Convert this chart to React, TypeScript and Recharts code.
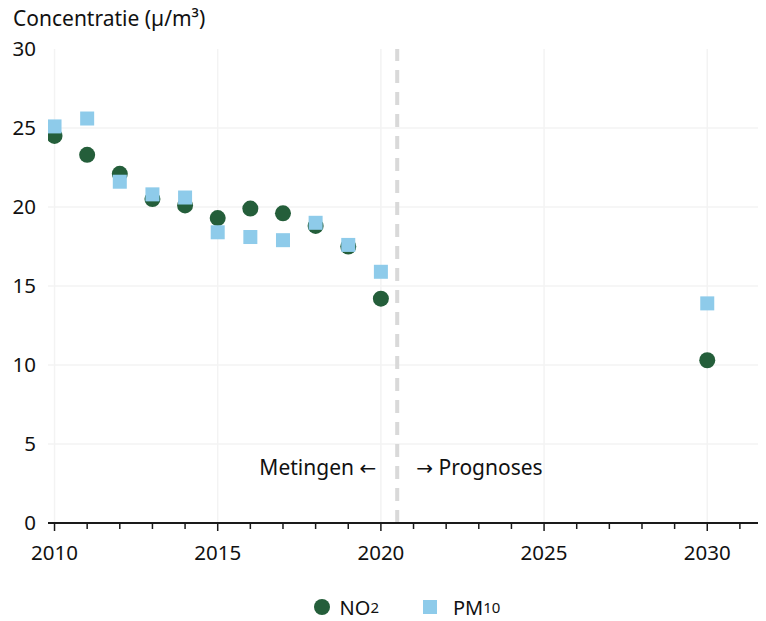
import React from "react";
import {
  ScatterChart,
  Scatter,
  XAxis,
  YAxis,
  ReferenceLine,
  Legend,
} from "recharts";

const years = [2010, 2011, 2012, 2013, 2014, 2015, 2016, 2017, 2018, 2019, 2020, 2030];
const no2Values = [24.5, 23.3, 22.1, 20.5, 20.1, 19.3, 19.9, 19.6, 18.8, 17.5, 14.2, 10.3];
const pm10Values = [25.1, 25.6, 21.6, 20.8, 20.6, 18.4, 18.1, 17.9, 19.0, 17.6, 15.9, 13.9];

const xTicks = [
  2010, 2011, 2012, 2013, 2014, 2015, 2016, 2017, 2018, 2019, 2020,
  2021, 2022, 2023, 2024, 2025, 2026, 2027, 2028, 2029, 2030, 2031,
];
const yTicks = [0, 5, 10, 15, 20, 25, 30];
const gridYears = [2010, 2015, 2020, 2025, 2030];
const gridValues = [5, 10, 15, 20, 25];
const splitYear = 2020.5;

const no2Data = years.map((year, i) => ({ year, value: no2Values[i] }));
const pm10Data = years.map((year, i) => ({ year, value: pm10Values[i] }));

const FONT = "'Noto Sans', sans-serif";
const ARROW_FONT = "'DejaVu Sans', sans-serif";
const GREEN = "#245e3a";
const BLUE = "#8ecbea";

const XTick = (props: any) => {
  const { x, y, payload } = props;
  const major = payload.value % 5 === 0;
  return (
    <g>
      <line x1={x} x2={x} y1={y} y2={y + (major ? 8 : 6)} stroke="#1a1a1a" strokeWidth={1.5} />
      {major && (
        <text x={x} y={y + 37} textAnchor="middle" fontSize={20.5} fill="#111" fontFamily={FONT}>
          {payload.value}
        </text>
      )}
    </g>
  );
};

const Circle = (props: any) => <circle cx={props.cx} cy={props.cy} r={8} fill={GREEN} />;
const Square = (props: any) => (
  <rect x={props.cx - 7} y={props.cy - 7} width={14} height={14} fill={BLUE} />
);

const SplitLabel = (props: any) => {
  const { viewBox } = props;
  const x = viewBox.x;
  const y = viewBox.y + viewBox.height - 48;
  return (
    <g fontFamily={FONT} fontSize={21} fill="#111">
      <text x={x - 21} y={y} textAnchor="end">
        Metingen <tspan fontFamily={ARROW_FONT} fontSize={20}>←</tspan>
      </text>
      <text x={x + 19} y={y} textAnchor="start">
        <tspan fontFamily={ARROW_FONT} fontSize={20}>→</tspan> Prognoses
      </text>
    </g>
  );
};

const LegendContent = () => (
  <div
    style={{
      display: "flex",
      justifyContent: "center",
      alignItems: "center",
      boxSizing: "border-box",
      height: 48,
      paddingTop: 20,
      paddingLeft: 48,
      fontFamily: FONT,
      fontSize: 20,
      color: "#111",
    }}
  >
    <span style={{ display: "flex", alignItems: "center", marginRight: 44 }}>
      <span style={{ width: 16, height: 16, borderRadius: 8, background: GREEN, marginRight: 10 }} />
      NO<span style={{ fontSize: 15 }}>2</span>
    </span>
    <span style={{ display: "flex", alignItems: "center" }}>
      <span style={{ width: 14, height: 14, background: BLUE, marginRight: 16 }} />
      PM<span style={{ fontSize: 15 }}>10</span>
    </span>
  </div>
);

export default function App() {
  return (
    <div style={{ position: "relative", width: 766, height: 621, margin: "-8px -8px 0 -8px" }}>
      <div
        style={{
          position: "absolute",
          left: 13,
          top: 5,
          fontFamily: FONT,
          fontSize: 21,
          lineHeight: "26px",
          color: "#111",
        }}
      >
        Concentratie (µ/m³)
      </div>
      <ScatterChart width={766} height={621} margin={{ top: 49, right: 0, bottom: 0, left: 0 }}>
        {gridValues.map((v) => (
          <ReferenceLine key={"h" + v} y={v} stroke="#f3f3f3" strokeWidth={1.5} />
        ))}
        {gridYears.map((yr) => (
          <ReferenceLine key={"v" + yr} x={yr} stroke="#f3f3f3" strokeWidth={1.5} />
        ))}
        <XAxis
          type="number"
          dataKey="year"
          domain={[2009.8, 2031.8]}
          ticks={xTicks}
          interval={0}
          allowDataOverflow
          height={50}
          tickLine={false}
          tickSize={0}
          tickMargin={0}
          tick={<XTick />}
          axisLine={{ stroke: "#1a1a1a", strokeWidth: 2 }}
        />
        <YAxis
          type="number"
          dataKey="value"
          domain={[0, 30]}
          ticks={yTicks}
          interval={0}
          width={48}
          axisLine={false}
          tickLine={false}
          tickSize={0}
          tickMargin={12}
          tick={{ fontSize: 20.5, fill: "#111", fontFamily: FONT }}
        />
        <ReferenceLine
          x={splitYear}
          stroke="#d9d9d9"
          strokeWidth={4}
          strokeDasharray="13 9"
          label={<SplitLabel />}
        />
        <Scatter name="NO2" data={no2Data} shape={<Circle />} isAnimationActive={false} />
        <Scatter name="PM10" data={pm10Data} shape={<Square />} isAnimationActive={false} />
        <Legend verticalAlign="bottom" height={48} content={<LegendContent />} />
      </ScatterChart>
    </div>
  );
}
